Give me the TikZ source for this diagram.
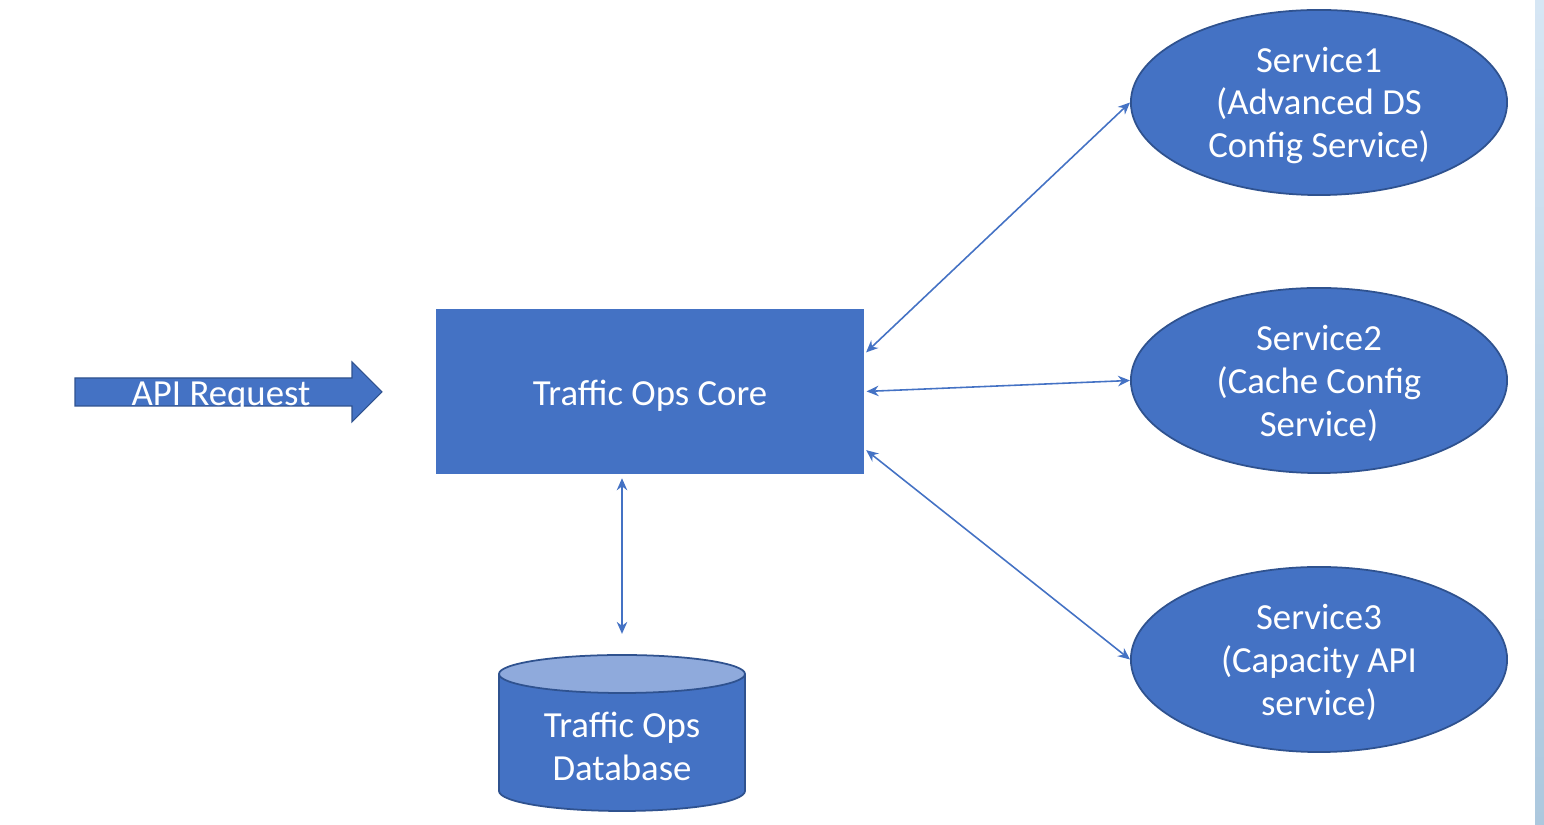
\documentclass[tikz,border=0pt]{standalone}
\usepackage{fontspec}
\setmainfont{Carlito}
\usepackage{tikz}
\usetikzlibrary{arrows.meta}
\usetikzlibrary{shapes.geometric,calc}

\definecolor{boxblue}{RGB}{68,114,196}
\definecolor{edgeblue}{RGB}{47,82,143}
\definecolor{topblue}{RGB}{143,170,220}
\definecolor{stripblue}{RGB}{214,230,244}
\definecolor{stripdark}{RGB}{172,200,222}

\tikzset{
  boxfont/.style={text=white, font=\fontsize{10.45pt}{12.2pt}\selectfont},
  servicenode/.style={ellipse, fill=boxblue, draw=edgeblue, line width=0.5pt,
    minimum width=3.76cm, minimum height=1.85cm, inner sep=0pt},
  inside/.style={boxfont, align=center, yshift=-0.85pt},
  link/.style={boxblue, line width=0.45pt, {Stealth[length=1.2mm,width=1.05mm]}-{Stealth[length=1.2mm,width=1.05mm]}}
}

\begin{document}
\begin{tikzpicture}[x=0.01cm,y=-0.01cm]
		\useasboundingbox (0,0) rectangle (1544,825);
		\shade [top color=stripblue, bottom color=stripdark] (1535,0) rectangle (1544,825);
		
		% request arrow
		\draw [fill=boxblue, draw=edgeblue, line width=0.3pt] (75,378) -- (352,378) -- (352,362) -- (382,392) -- (352,422) -- (352,406) -- (75,406) -- cycle;
		\node (api) at (221,397) [boxfont] {API Request};
		
		\node (core) at (650,391.5) [rectangle, fill=boxblue, minimum width=4.28cm, minimum height=1.65cm, inner sep=0pt,
			label={[inside, yshift=-0.3pt]center:Traffic Ops Core}] {};
		
		% database
		\coordinate (dbtop) at (622,655);
		\draw [fill=boxblue, draw=edgeblue, line width=0.5pt] (499,674) -- (499,791) arc [start angle=180, end angle=0, x radius=123, y radius=20] -- (745,674);
		\draw [fill=topblue, draw=edgeblue, line width=0.5pt] (622,674) ellipse [x radius=123, y radius=19];
		\node (db) at (622,746) [align=center, boxfont] {Traffic Ops\\Database};
		
		\node (s1) at (1319,102.5) [servicenode, label={[inside]center:Service1\\(Advanced DS\\Config Service)}] {};
		\node (s2) at (1319,380.5) [servicenode, label={[inside]center:Service2\\(Cache Config\\Service)}] {};
		\node (s3) at (1319,659.5) [servicenode, label={[inside]center:Service3\\(Capacity API\\service)}] {};
		
		\draw [link, shorten <=0.5pt] (core.10) -- (s1.west);
		\draw [link, shorten <=0.5pt] (core.east) -- (s2.west);
		\draw [link, shorten <=0.5pt] (core.-15) -- (s3.west);
		\draw [link, shorten <=1pt, shorten >=6pt] (core.south -| dbtop) -- (dbtop);
		
\end{tikzpicture}
\end{document}
